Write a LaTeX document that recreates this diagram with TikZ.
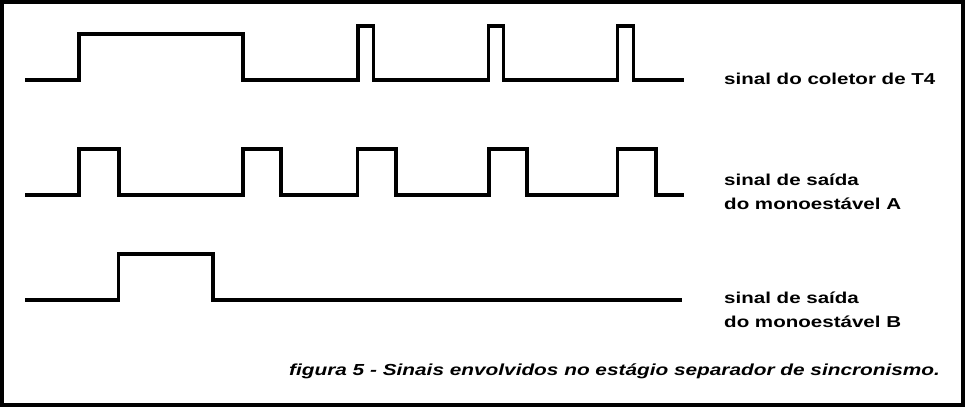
\documentclass[tikz,border=0pt]{standalone}
\usepackage{fontspec}
\newfontfamily\lblfont[FakeStretch=1.3]{Liberation Sans}
\begin{document}
\begin{tikzpicture}[x=1pt,y=-1pt,
  frame/.style={line width=3.6pt},
  wave/.style={line width=3.6pt,line join=miter,line cap=butt},
  lbl/.style={inner sep=0pt,anchor=base west,font=\lblfont\bfseries\fontsize{15.8}{19}\selectfont},
  captext/.style={inner sep=0pt,anchor=base west,font=\lblfont\bfseries\itshape\fontsize{16}{19}\selectfont}]
\useasboundingbox (0,0) rectangle (966,408);
\draw[frame] (1.8,1.8) rectangle (963.2,405.2);
% signal 1: collector of T4
\draw[wave] (25,79.7) -| (79,33.7) -| (242.7,79.7) -| (358,25.8) -| (373.5,79.7)
  -| (488.5,25.8) -| (503.5,79.7) -| (617.5,25.8) -| (633.3,79.7) -- (683.5,79.7);
% signal 2: monostable A
\draw[wave] (25,194.8) -| (79,148.7) -| (118.7,194.8) -| (242.7,148.7) -| (281,194.8)
  -| (357.3,148.7) -| (396,194.8) -| (488.7,148.7) -| (527,194.8)
  -| (617.5,148.7) -| (656,194.8) -- (684,194.8);
% signal 3: monostable B
\draw[wave] (25,299.8) -| (118.3,253.8) -| (212.8,299.8) -- (682,299.8);
% labels
\node[lbl] (t1) at (724,84) {sinal do coletor de T4};
\node[lbl] (t2a) at (724,185.7) {sinal de saída};
\node[lbl] (t2b) at (724,209.3) {do monoestável A};
\node[lbl] (t3a) at (724,303) {sinal de saída};
\node[lbl] (t3b) at (724,327) {do monoestável B};
\node[captext] (caption) at (289,375.7) {figura 5 - Sinais envolvidos no estágio separador de sincronismo.};
\end{tikzpicture}
\end{document}
